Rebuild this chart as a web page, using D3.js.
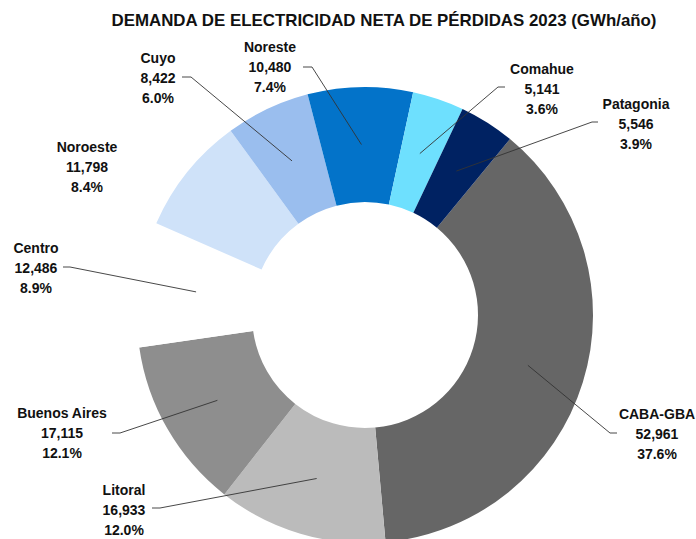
<!DOCTYPE html>
<html>
<head>
<meta charset="utf-8">
<script src="https://cdn.jsdelivr.net/npm/d3@7"></script>
<style>
  body { margin: 0; background: #fff; }
  text { font-family: "Liberation Sans", Arial, sans-serif; font-weight: bold; fill: #111; }
</style>
</head>
<body>
<div id="chart"></div>
<script>
// data
const regions = ["CABA-GBA", "Litoral", "Buenos Aires", "Centro", "Noroeste", "Cuyo", "Noreste", "Comahue", "Patagonia"];
const demand = [52961, 16933, 17115, 12486, 11798, 8422, 10480, 5141, 5546];
const titleText = "DEMANDA DE ELECTRICIDAD NETA DE PÉRDIDAS 2023 (GWh/año)";

// styles / layout
const palette = ["#666666", "#bbbbbb", "#8e8e8e", "#ffffff", "#cfe2f9", "#9abeee", "#0373c9", "#6ee0fe", "#002262"];
// label block centre (x, y of first line), leader anchor and stub end
const labelPos = {
  "CABA-GBA":     {x: 657, y: 414, ax: 617, ay: 433, sx: 610},
  "Litoral":      {x: 124, y: 490, ax: 152, ay: 508, sx: 160},
  "Buenos Aires": {x: 62,  y: 413, ax: 112, ay: 433, sx: 120},
  "Centro":       {x: 36,  y: 248, ax: 63,  ay: 267, sx: 70},
  "Noroeste":     {x: 87,  y: 147},
  "Cuyo":         {x: 158, y: 58,  ax: 182, ay: 77,  sx: 191},
  "Noreste":      {x: 270, y: 47,  ax: 303, ay: 67,  sx: 312},
  "Comahue":      {x: 542, y: 69,  ax: 505, ay: 87,  sx: 498},
  "Patagonia":    {x: 636, y: 104, ax: 598, ay: 122, sx: 592}
};

const width = 696, height = 539;
const cx = 365, cy = 315, rIn = 113, rOut = 228;
const startAngle = 39.5 * Math.PI / 180;

const svg = d3.select("#chart")
  .append("svg")
    .attr("width", width)
    .attr("height", height);

// title
svg.append("text")
  .attr("x", 384)
  .attr("y", 26)
  .attr("text-anchor", "middle")
  .attr("textLength", 545)
  .attr("lengthAdjust", "spacingAndGlyphs")
  .style("font-size", "17px")
  .text(titleText);

const data = regions.map((r, i) => ({name: r, value: demand[i], color: palette[i]}));
const total = d3.sum(demand);

const pie = d3.pie()
  .value(d => d.value)
  .sort(null)
  .startAngle(startAngle)
  .endAngle(startAngle + 2 * Math.PI);

const arc = d3.arc().innerRadius(rIn).outerRadius(rOut);

const g = svg.append("g").attr("transform", `translate(${cx},${cy})`);
const arcs = pie(data);

g.selectAll("path.slice")
  .data(arcs)
  .enter()
  .append("path")
    .attr("class", "slice")
    .attr("d", arc)
    .style("fill", d => d.data.color);

// leader lines
arcs.forEach(function(d) {
  const p = labelPos[d.data.name];
  if (p.ax === undefined) return;
  const c = arc.centroid(d);
  svg.append("polyline")
    .attr("points", [[p.ax, p.ay], [p.sx, p.ay], [cx + c[0], cy + c[1]]].map(q => q.join(",")).join(" "))
    .style("fill", "none")
    .style("stroke", "#333")
    .style("stroke-width", 0.9);
});

// labels
const fmtNum = d3.format(",");
const fmtPct = d3.format(".1%");
arcs.forEach(function(d) {
  const p = labelPos[d.data.name];
  const lines = [d.data.name, fmtNum(d.data.value), fmtPct(d.data.value / total)];
  lines.forEach(function(t, i) {
    svg.append("text")
      .attr("x", p.x)
      .attr("y", p.y + i * 20)
      .attr("dy", "0.36em")
      .attr("text-anchor", "middle")
      .style("font-size", "14px")
      .text(t);
  });
});
</script>
</body>
</html>
